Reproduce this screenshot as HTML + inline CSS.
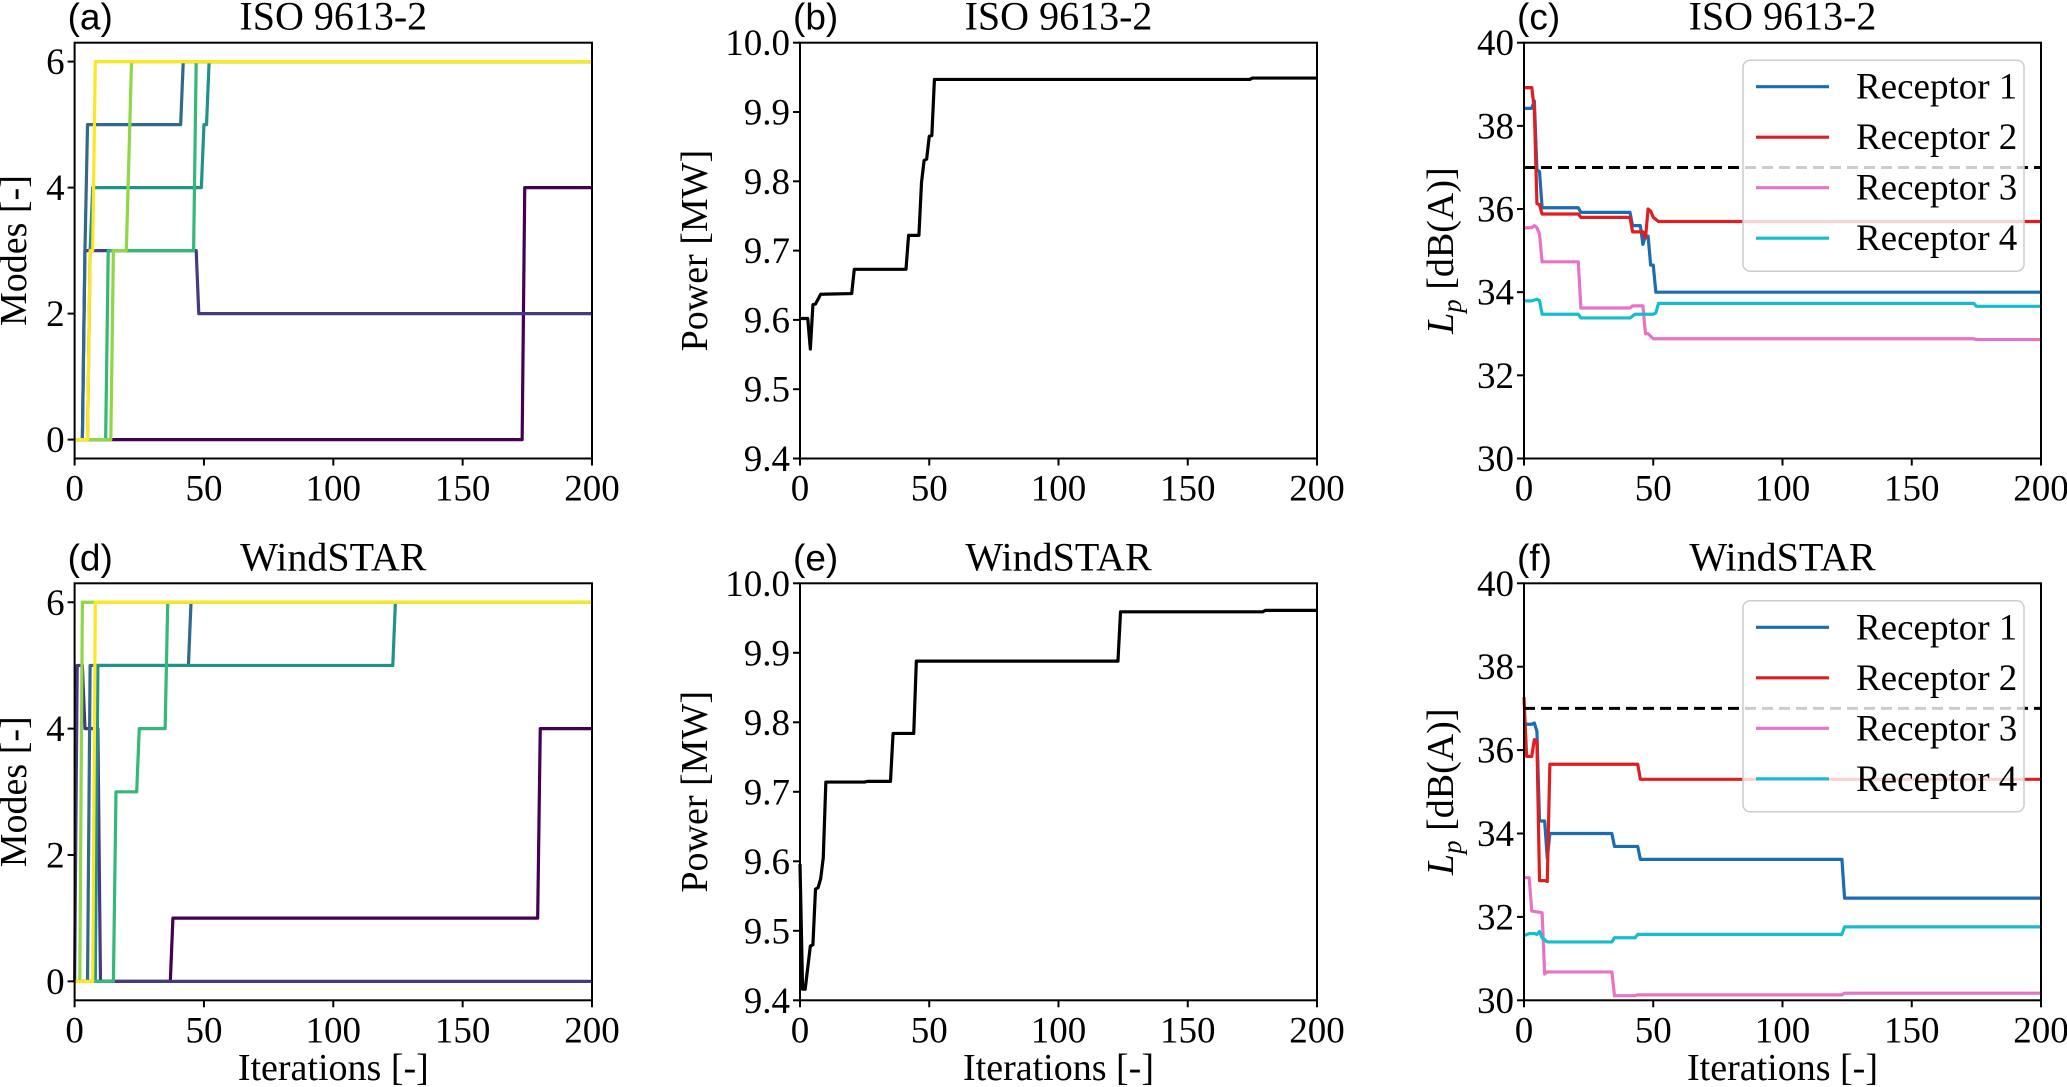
<!DOCTYPE html>
<html><head><meta charset="utf-8"><style>
html,body{margin:0;padding:0;background:#fff;}
svg{display:block;}
text{font-family:"Liberation Serif",serif;fill:#000;}
</style></head><body>
<svg id="fig" width="2067" height="1087" viewBox="0 0 2067 1087" xmlns="http://www.w3.org/2000/svg"></svg>
<script>
// ---------- data ----------
const modeColors = ['#440154','#443983','#31688e','#21918c','#35b779','#8fd744','#fde725'];
const xTicks = [0,50,100,150,200];
const modeTicks = [0,2,4,6];
const powerTicks = [9.4,9.5,9.6,9.7,9.8,9.9,10.0];
const powerTickLabels = ['9.4','9.5','9.6','9.7','9.8','9.9','10.0'];
const lpTicks = [30,32,34,36,38,40];
const receptorNames = ['Receptor 1','Receptor 2','Receptor 3','Receptor 4'];
const receptorColors = ['#1a6db3','#de1f22','#e673c6','#17bccf'];
const lpLimit = 37;

// (a) ISO modes
const aX = [[0,173,174,200],[0,3,4,47,48,200],[0,3,4,5,41,42,200],[0,5,6,7,49,50,51,52,200],[0,12,13,46,47,200],[0,14,15,20,22,200],[0,5,6,7,8,200]];
const aY = [[0,0,4,4],[0,0,3,3,2,2],[0,0,3,5,5,6,6],[0,0,3,4,4,5,5,6,6],[0,0,3,3,6,6],[0,0,3,3,6,6],[0,0,3,3,6,6]];
// (d) WindSTAR modes
const dX = [[0,37,38,179,180,200],[0,1,3,4,9,10,200],[0,5,6,44,45,200],[0,8,9,123,124,200],[0,15,16,24,25,35,36,200],[0,2,3,200],[0,7,8,200]];
const dY = [[0,0,1,1,4,4],[0,5,5,4,4,0,0],[0,0,5,5,6,6],[0,0,5,5,6,6],[0,0,3,3,4,4,6,6],[0,0,6,6],[0,0,6,6]];
// (b) ISO power
const bX = [0,3,4,5,6,8,20,21,41,42,46,47,48,49,50,51,52,174,175,200];
const bY = [9.602,9.602,9.558,9.622,9.623,9.637,9.638,9.673,9.673,9.722,9.722,9.798,9.830,9.832,9.865,9.866,9.947,9.947,9.949,9.949];
// (e) WindSTAR power
const eX = [0,1,2,4,5,6,7,8,9,10,25,26,35,36,44,45,123,124,179,180,200];
const eY = [9.596,9.416,9.416,9.478,9.480,9.560,9.562,9.575,9.605,9.714,9.714,9.715,9.715,9.784,9.784,9.888,9.888,9.959,9.959,9.961,9.961];
// (c) ISO receptor levels
const cX = [
 [0,3,4,5,6,7,21,22,41,42,45,46,47,48,49,50,51,200],
 [0,3,4,5,6,7,21,22,41,42,46,47,48,49,50,51,52,200],
 [0,3,4,5,6,7,21,22,41,42,46,47,48,50,174,175,200],
 [0,3,5,6,7,21,22,41,43,50,51,52,174,175,200]];
const cY = [
 [38.42,38.42,38.6,36.94,36.9,36.03,36.03,35.92,35.92,35.6,35.6,35.15,35.35,35.35,34.65,34.65,34.0,34.0],
 [38.92,38.92,38.4,36.13,36.1,35.88,35.88,35.8,35.8,35.45,35.45,35.3,36.0,35.95,35.8,35.75,35.7,35.7],
 [35.55,35.55,35.6,35.55,35.4,34.73,34.73,33.62,33.62,33.67,33.67,33.0,33.0,32.88,32.88,32.86,32.86],
 [33.79,33.79,33.83,33.8,33.47,33.47,33.38,33.38,33.47,33.47,33.5,33.73,33.73,33.66,33.66]];
// (f) WindSTAR receptor levels
const fX = [
 [0,3,4,5,6,8,9,10,34,35,44,45,123,124,200],
 [0,1,3,4,5,6,8,9,10,44,45,200],
 [0,2,3,7,8,9,34,35,43,44,123,124,200],
 [0,2,4,5,6,7,9,34,35,43,44,123,124,200]];
const fY = [
 [36.62,36.62,36.65,36.45,34.3,34.3,33.4,34.0,34.0,33.69,33.69,33.38,33.38,32.45,32.45],
 [37.27,35.85,35.85,36.25,36.2,32.87,32.87,32.85,35.66,35.66,35.3,35.3],
 [32.94,32.94,32.14,32.1,30.63,30.68,30.68,30.11,30.11,30.13,30.13,30.17,30.17],
 [31.55,31.6,31.6,31.58,31.65,31.5,31.4,31.4,31.5,31.5,31.58,31.58,31.76,31.76]];

// ---------- drawing ----------
const NS='http://www.w3.org/2000/svg';
const svg=document.getElementById('fig');
function mk(tag,attrs,parent){const e=document.createElementNS(NS,tag);for(const k in attrs)e.setAttribute(k,attrs[k]);(parent||svg).appendChild(e);return e;}

const colL=[74.6,800,1524], colR=[592,1317,2041];
const rowT=[42.7,583.3], rowB=[458.5,1000.3];

function panel(p){
  const g=mk('g',{});
  
  
  const L=colL[p.col],R=colR[p.col],T=rowT[p.row],B=rowB[p.row];
  const xs=v=>L+(v-0)/(200-0)*(R-L);
  const ys=v=>B-(v-p.ymin)/(p.ymax-p.ymin)*(B-T);
  const sg=mk('g',{},g);
  
  
  p.series.forEach((s,i)=>{
    const pts=s.x.map((xv,j)=>xs(xv).toFixed(2)+','+ys(s.y[j]).toFixed(2)).join(' ');
    const pl=mk('polyline',{points:pts,fill:'none',stroke:s.color,'stroke-width':3.2,'stroke-linejoin':'round'},sg);
    
    
  });
  if(p.limit!==undefined){
    const ln=mk('line',{x1:L,x2:R,y1:ys(p.limit),y2:ys(p.limit),stroke:'#000','stroke-width':3,'stroke-dasharray':'11,6'},g);
    
    
  }
  if(p.legend){
    const lg=mk('g',{},g);
    
    
    const top=T+17.5, h=211;
    mk('rect',{x:1743,y:top,width:281,height:h,rx:7,fill:'#fff','fill-opacity':0.8,stroke:'#cccccc','stroke-width':1.5},lg);
    p.series.forEach((s,i)=>{
      const yy=top+26.5+i*50.5;
      const ent=mk('g',{},lg);
      
      
      mk('line',{x1:1756,x2:1829,y1:yy,y2:yy,stroke:s.color,'stroke-width':3.2},ent);
      const t=mk('text',{x:1856,y:yy+12,'font-size':37},ent);
      t.textContent=s.label;
    });
  }
  const fr=mk('rect',{x:L,y:T,width:R-L,height:B-T,fill:'none',stroke:'#000','stroke-width':2},g);
  
  
  const xt=mk('g',{},g);
  
  
  xTicks.forEach(v=>{
    mk('line',{x1:xs(v),x2:xs(v),y1:B,y2:B+7,stroke:'#000','stroke-width':2},xt);
    const t=mk('text',{x:xs(v),y:B+42,'font-size':37,'text-anchor':'middle'},xt);
    t.textContent=String(v);
  });
  const yt=mk('g',{},g);
  
  
  p.yticks.forEach((v,i)=>{
    mk('line',{x1:L-7,x2:L,y1:ys(v),y2:ys(v),stroke:'#000','stroke-width':2},yt);
    const t=mk('text',{x:L-10,y:ys(v)+12.5,'font-size':37,'text-anchor':'end'},yt);
    t.textContent=p.ylabels?p.ylabels[i]:String(v);
  });
  const tt=mk('text',{x:(L+R)/2,y:T-13,'font-size':40,'text-anchor':'middle'},g);
  tt.textContent=p.title;
  
  
  const lt=mk('text',{x:L-7,y:T-13,'font-size':37,style:'font-family:"Liberation Sans",sans-serif'},g);
  lt.textContent=p.letter;
  
  
  const yl=mk('text',{x:0,y:0,'font-size':38,'text-anchor':'middle',transform:`translate(${p.ylx},${(T+B)/2}) rotate(-90)`},g);
  
  
  if(p.ylabelLp){
    const a=mk('tspan',{'font-style':'italic'},yl);a.textContent='L';
    const b=mk('tspan',{'font-style':'italic','font-size':27,dy:8},yl);b.textContent='p';
    const c=mk('tspan',{dy:-8},yl);c.textContent=' [dB(A)]';
  } else yl.textContent=p.ylabel;
  if(p.row===1){
    const xl=mk('text',{x:(L+R)/2,y:1080,'font-size':38,'text-anchor':'middle'},g);
    xl.textContent='Iterations [-]';
    
    
  }
}
function modeSeries(X,Y){return X.map((x,i)=>({x:x,y:Y[i],color:modeColors[i],label:'turbine-'+(i+1)+'-mode'}));}
function recSeries(X,Y){return X.map((x,i)=>({x:x,y:Y[i],color:receptorColors[i],label:receptorNames[i]}));}

panel({name:'panel-a-modes-iso',col:0,row:0,ymin:-0.3,ymax:6.3,yticks:modeTicks,title:'ISO 9613-2',letter:'(a)',ylabel:'Modes [-]',ylx:26,series:modeSeries(aX,aY)});
panel({name:'panel-b-power-iso',col:1,row:0,ymin:9.4,ymax:10.0,yticks:powerTicks,ylabels:powerTickLabels,title:'ISO 9613-2',letter:'(b)',ylabel:'Power [MW]',ylx:707,series:[{x:bX,y:bY,color:'#000',label:'power'}]});
panel({name:'panel-c-lp-iso',col:2,row:0,ymin:30,ymax:40,yticks:lpTicks,title:'ISO 9613-2',letter:'(c)',ylabelLp:true,ylx:1453,series:recSeries(cX,cY),limit:lpLimit,legend:true});
panel({name:'panel-d-modes-windstar',col:0,row:1,ymin:-0.3,ymax:6.3,yticks:modeTicks,title:'WindSTAR',letter:'(d)',ylabel:'Modes [-]',ylx:26,series:modeSeries(dX,dY)});
panel({name:'panel-e-power-windstar',col:1,row:1,ymin:9.4,ymax:10.0,yticks:powerTicks,ylabels:powerTickLabels,title:'WindSTAR',letter:'(e)',ylabel:'Power [MW]',ylx:707,series:[{x:eX,y:eY,color:'#000',label:'power'}]});
panel({name:'panel-f-lp-windstar',col:2,row:1,ymin:30,ymax:40,yticks:lpTicks,title:'WindSTAR',letter:'(f)',ylabelLp:true,ylx:1453,series:recSeries(fX,fY),limit:lpLimit,legend:true});
</script>
</body></html>
